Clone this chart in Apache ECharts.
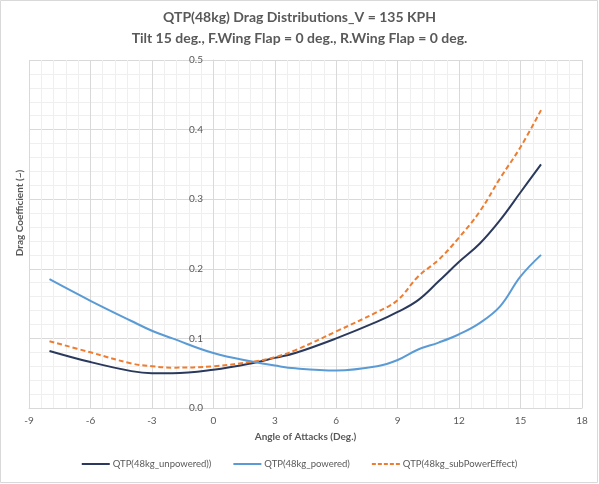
<!DOCTYPE html>
<html><head><meta charset="utf-8">
<script src="https://cdn.jsdelivr.net/npm/echarts@6/dist/echarts.min.js"></script>
<style>html,body{margin:0;padding:0;background:#fff}#c{width:599px;height:484px}</style>
</head><body><div id="c"></div>
<script>
const angles = [-8,-6,-4,-3,-2,0,2,3,4,6,8,9,10,11,12,13,14,15,16];
const unpowered = [0.082,0.066,0.053,0.050,0.050,0.055,0.065,0.072,0.079,0.100,0.124,0.138,0.155,0.182,0.210,0.236,0.270,0.310,0.350];
const powered = [0.185,0.154,0.125,0.111,0.100,0.079,0.066,0.061,0.057,0.054,0.060,0.069,0.084,0.094,0.106,0.122,0.146,0.189,0.220];
const subPower = [0.096,0.080,0.064,0.060,0.058,0.060,0.067,0.073,0.083,0.110,0.138,0.155,0.189,0.213,0.245,0.282,0.330,0.375,0.428];
const seriesNames = ['QTP(48kg_unpowered))','QTP(48kg_powered)','QTP(48kg_subPowerEffect)'];
const titleLines = ['QTP(48kg) Drag Distributions_V = 135 KPH','Tilt 15 deg., F.Wing Flap = 0 deg., R.Wing Flap = 0 deg.'];
const xTitle = 'Angle of Attacks (Deg.)';
const yTitle = 'Drag Coefficient (~)';

const pair = (ys) => angles.map((a,i)=>[a, ys[i]]);
const FONT = 'Lato, "Open Sans", sans-serif';
const SOLID = 'path://M0,0h28v2h-28z';
const DASH = 'path://M0,0h4v2h-4z M6,0h4v2h-4z M12,0h4v2h-4z M18,0h4v2h-4z M24,0h4v2h-4z';
const chart = echarts.init(document.getElementById('c'));
chart.setOption({
  animation:false,
  textStyle:{fontFamily:FONT},
  graphic:[
    {type:'rect', shape:{x:0.5,y:0.5,width:597,height:482}, style:{fill:'none',stroke:'#d9d9d9',lineWidth:1}, silent:true},
    {type:'text', left:'center', top:10, style:{text:titleLines[0], font:'bold 14px '+FONT, fill:'#595959'}},
    {type:'text', left:'center', top:31, style:{text:titleLines[1], font:'bold 14px '+FONT, fill:'#595959'}},
    {type:'text', x:20, y:213, rotation:Math.PI/2, style:{text:yTitle, font:'bold 10px '+FONT, fill:'#595959', align:'center', verticalAlign:'middle'}}
  ],
  grid:{left:29,right:17,top:60,bottom:76},
  legend:{bottom:10,left:'center',itemWidth:28,itemHeight:2,itemGap:22,
    textStyle:{color:'#595959',fontSize:9.5,fontFamily:FONT,padding:[0,0,0,-2]},
    data:[{name:seriesNames[0],icon:SOLID},{name:seriesNames[1],icon:SOLID},{name:seriesNames[2],icon:DASH}]},
  xAxis:{type:'value',min:-9,max:18,interval:3,
    name:xTitle,nameLocation:'middle',nameGap:24,
    nameTextStyle:{color:'#595959',fontWeight:'bold',fontSize:10},
    axisLine:{show:true,lineStyle:{color:'#d9d9d9'}},
    axisTick:{show:false},
    axisLabel:{color:'#595959',fontSize:10,margin:8},
    splitLine:{show:true,lineStyle:{color:'#d9d9d9'}},
    minorTick:{show:false,splitNumber:5},
    minorSplitLine:{show:true,lineStyle:{color:'#efefef'}}},
  yAxis:{type:'value',min:0,max:0.5,interval:0.1,offset:-184,
    axisLine:{show:true,onZero:false,lineStyle:{color:'#d9d9d9'}},
    axisTick:{show:false},
    axisLabel:{color:'#595959',fontSize:10,margin:10,formatter:(v)=>v.toFixed(1)},
    splitLine:{show:true,lineStyle:{color:'#d9d9d9'}},
    minorTick:{show:false,splitNumber:5},
    minorSplitLine:{show:true,lineStyle:{color:'#efefef'}}},
  series:[
    {name:seriesNames[0],type:'line',smooth:0.4,symbol:'none',data:pair(unpowered),lineStyle:{color:'#2b3a5c',width:2},itemStyle:{color:'#2b3a5c'}},
    {name:seriesNames[1],type:'line',smooth:0.4,symbol:'none',data:pair(powered),lineStyle:{color:'#5b9bd5',width:2},itemStyle:{color:'#5b9bd5'}},
    {name:seriesNames[2],type:'line',smooth:0.4,symbol:'none',data:pair(subPower),lineStyle:{color:'#ed7d31',width:2,type:[5,3]},itemStyle:{color:'#ed7d31'}}
  ]
});
</script></body></html>
